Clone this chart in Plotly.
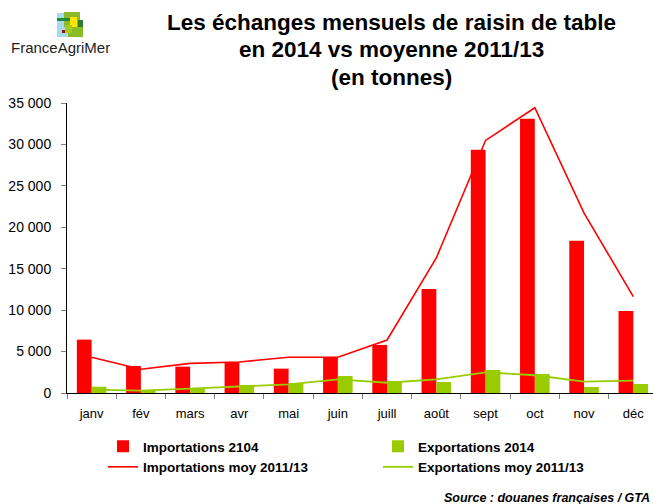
import plotly.graph_objects as go

months = ["janv", "fév", "mars", "avr", "mai", "juin", "juill", "août", "sept", "oct", "nov", "déc"]
imports_2014 = [6440, 3260, 3180, 3750, 2940, 4350, 5800, 12560, 29360, 33100, 18360, 9900]
exports_2014 = [760, 360, 570, 970, 1210, 2050, 1450, 1330, 2780, 2300, 730, 1090]
imports_avg = [4310, 2860, 3580, 3750, 4310, 4310, 6400, 16310, 30480, 34430, 21700, 11640]
exports_avg = [400, 280, 520, 800, 1050, 1650, 1240, 1650, 2500, 2140, 1370, 1490]

y_ticks = [0, 5000, 10000, 15000, 20000, 25000, 30000, 35000]
title_lines = ["Les échanges mensuels de raisin de table", "en 2014 vs moyenne 2011/13", "(en tonnes)"]

RED = "#FF0000"
GREEN = "#99CC00"
FONT = "Liberation Sans, Arial, sans-serif"

W, H = 653, 504
ML, MR, MT, MB = 67, 0, 103, 111
PW = W - ML - MR
PH = H - MT - MB

fig = go.Figure()
fig.add_trace(go.Bar(x=months, y=imports_2014, name="Importations 2104",
                     marker=dict(color=RED, line=dict(width=0))))
fig.add_trace(go.Bar(x=months, y=exports_2014, name="Exportations 2014",
                     marker=dict(color=GREEN, line=dict(width=0))))
fig.add_trace(go.Scatter(x=months, y=imports_avg, name="Importations moy 2011/13",
                         mode="lines", line=dict(color=RED, width=1.6)))
fig.add_trace(go.Scatter(x=months, y=exports_avg, name="Exportations moy 2011/13",
                         mode="lines", line=dict(color=GREEN, width=1.8)))


def px_x(x):
    return (x - ML) / PW


def px_y(y):
    return (H - MB - y) / PH


# FranceAgriMer logo blocks (decorative)
logo = [
    (57, 13, 77, 37, "#A9D9EC"),
    (64, 12, 80, 27, "#8DB82A"),
    (57, 18, 70, 21, "#1F8A3B"),
    (70, 17, 77, 28, "#FFE600"),
    (62, 30, 70, 33, "#8E1B1B"),
    (68, 27, 83, 37, "#86BC25"),
    (78, 20, 83, 27, "#2E7D32"),
    (65, 25, 72, 33, "#A5C81E"),
]
shapes = []
for x0, y0, x1, y1, c in logo:
    shapes.append(dict(type="rect", xref="paper", yref="paper",
                       x0=px_x(x0), x1=px_x(x1), y0=px_y(y1), y1=px_y(y0),
                       fillcolor=c, line=dict(width=0), layer="above"))

annotations = [
    dict(text="FranceAgriMer", xref="paper", yref="paper",
         x=px_x(60), y=px_y(47), xanchor="center", yanchor="middle",
         showarrow=False, font=dict(family=FONT, size=15, color="#222222")),
    dict(text="<b><i>Source : douanes françaises / GTA</i></b>", xref="paper", yref="paper",
         x=px_x(652), y=px_y(498), xanchor="right", yanchor="middle",
         showarrow=False, font=dict(family=FONT, size=12.5, color="#000000")),
]
for line, yc in zip(title_lines, [22, 50, 78]):
    annotations.append(dict(text="<b>" + line + "</b>", xref="paper", yref="paper",
                            x=px_x(391), y=px_y(yc), xanchor="center", yanchor="middle",
                            showarrow=False,
                            font=dict(family=FONT, size=22.5, color="#000000")))

fig.update_layout(
    width=W, height=H,
    margin=dict(l=ML, r=MR, t=MT, b=MB, autoexpand=False),
    paper_bgcolor="white", plot_bgcolor="white",
    font=dict(family=FONT, size=13, color="#000000"),
    barmode="group", bargap=0.4, bargroupgap=0,
    separators=", ",
    showlegend=True,
    legend=dict(orientation="h", x=px_x(103), xanchor="left", y=px_y(431), yanchor="top",
                entrywidth=230, traceorder="normal",
                font=dict(family=FONT, size=13.5, color="#000000", weight="bold"),
                bgcolor="rgba(0,0,0,0)"),
    xaxis=dict(type="category", range=[-0.5, 11.4], showgrid=False,
               showline=True, linecolor="#000000", linewidth=1,
               ticks="outside", tickson="boundaries", ticklen=5, tickcolor="#808080",
               tickfont=dict(family=FONT, size=13), ticklabelstandoff=8),
    yaxis=dict(range=[0, 35000], tickvals=y_ticks, tickformat=",d", showgrid=False,
               zeroline=False, showline=True, linecolor="#000000", linewidth=1,
               ticks="outside", ticklen=5, tickcolor="#808080",
               tickfont=dict(family=FONT, size=14), ticklabelstandoff=7),
    shapes=shapes,
    annotations=annotations,
)

fig.write_html("out.html", config={"displayModeBar": False},
               post_script="document.body.style.margin='0';document.body.style.padding='0';")
